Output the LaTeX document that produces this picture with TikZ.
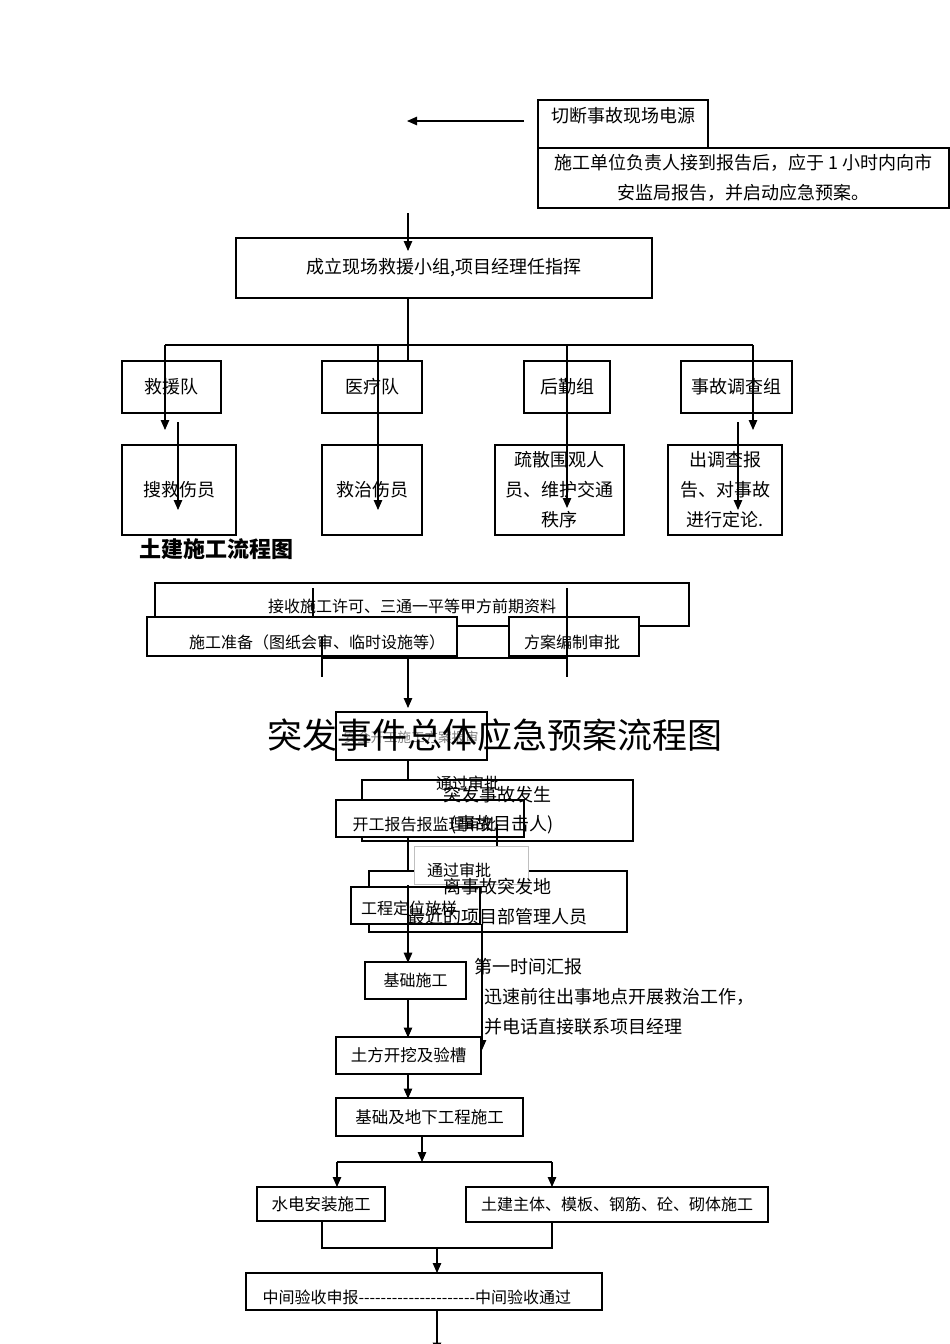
\documentclass[tikz,border=0pt]{standalone}
\usepackage{fontspec}
\setmainfont{Noto Sans CJK SC}
\usetikzlibrary{arrows.meta}

\begin{document}
\begin{tikzpicture}[x=1pt, y=-1pt,
  box/.style={draw, fill=white, line width=1.1pt, inner sep=0pt},
  ln/.style={line width=1.1pt},
  arr/.style={line width=1.1pt, -{Triangle[length=10pt, width=8.5pt]}},
  t18/.style={font=\fontsize{18}{30}\selectfont},
  t17/.style={font=\fontsize{16.5}{20}\selectfont},
  t16/.style={font=\fontsize{16}{20}\selectfont}]
\useasboundingbox (0,0) rectangle (950,1344);

% Emergency plan (upper chart)
\node (cut) at (623,124) [box, minimum width=170pt, minimum height=48pt] {};
\node (cuttxt) at (548,116) [t18, anchor=west] {切断事故现场电源};
\node (rep) at (743.5,178) [box, t18, align=center, minimum width=411pt, minimum height=60pt]
  {施工单位负责人接到报告后，应于 1 小时内向市\\安监局报告，并启动应急预案。};
\coordinate (lft1) at (524,121); \coordinate (lft2) at (407,121);
\draw[arr] (lft1) -- (lft2);

\node (team) at (444,268) [box, t18, minimum width=416pt, minimum height=60pt] {成立现场救援小组,项目经理任指挥};
\coordinate (top) at (408,213);
\draw[arr] (top) -- ++(0,38);
\draw[arr] (team.south -| top) -- ++(0,93);

% Groups
\node (rescue) at (171.5,387) [box, t18, minimum width=99pt, minimum height=52pt] {救援队};
\node (medic) at (372,387) [box, t18, minimum width=100pt, minimum height=52pt] {医疗队};
\node (logis) at (567,387) [box, t18, minimum width=86pt, minimum height=52pt] {后勤组};
\node (probe) at (736.5,387) [box, t18, minimum width=111pt, minimum height=52pt] {事故调查组};

\node (search) at (179,490) [box, t18, minimum width=114pt, minimum height=90pt] {搜救伤员};
\node (treat) at (372,490) [box, t18, minimum width=100pt, minimum height=90pt] {救治伤员};
\node (crowd) at (559.5,490) [box, t18, align=center, minimum width=129pt, minimum height=90pt] {疏散围观人\\员、维护交通\\秩序};
\node (verdict) at (725,490) [box, t18, align=center, minimum width=114pt, minimum height=90pt] {出调查报\\告、对事故\\进行定论.};

% Branch lines (drawn over the boxes)
\coordinate (hb1) at (165,345); \coordinate (hb2) at (753,345);
\draw[ln] (hb1) -- (hb2);
\foreach \x/\len in {165/85, 378/165, 567/163, 753/85} {
  \coordinate (br\x) at (\x,345);
  \draw[arr] (br\x) -- ++(0,\len);
}
\coordinate (sr1) at (178,422); \coordinate (sr2) at (738,422);
\draw[arr] (sr1) -- ++(0,88);
\draw[arr] (sr2) -- ++(0,88);

% Civil works flow chart
\node (civttl) at (136,549) [anchor=west, font=\fontsize{22}{22}\selectfont\bfseries] {土建施工流程图};

\node (recv) at (422,604.5) [box, minimum width=534pt, minimum height=43pt] {};
\draw[line width=1.8pt] (recv.north east) -- (recv.south east) -- (recv.south west);
\node (recvtxt) at (412,606) [t16] {接收施工许可、三通一平等甲方前期资料};
\coordinate (v1) at (313,588);
\draw[ln] (v1) -- ++(0,29);

\node (prep) at (302,636.5) [box, t16, minimum width=310pt, minimum height=39pt] {};
\draw[line width=1.6pt] (prep.north east) -- (prep.south east);
\node (preptxt) at (317,642) [t16] {施工准备（图纸会审、临时设施等）};
\node (plan) at (574,636.5) [box, minimum width=130pt, minimum height=39pt] {};
\node (plantxt) at (572,642) [t16] {方案编制审批};

\coordinate (j1) at (322,637); \coordinate (j2) at (567,588);
\coordinate (jm) at (408,658);
\draw[ln] (j1) -- ++(0,40);
\draw[ln] (j2) -- ++(0,89);
\draw[ln] (j1 |- jm) -- (j2 |- jm);
\draw[arr] (jm) -- ++(0,50);

\node (safe) at (411.5,736) [box, minimum width=151pt, minimum height=48pt] {};
\node (safetxt) at (411,737) [font=\fontsize{13.5}{14}\selectfont, text=gray] {安全开工施工方案报审};
\node (title) at (495,735) [font=\fontsize{35}{35}\selectfont] {突发事件总体应急预案流程图};

\draw[arr] (safe.south -| jm) -- ++(0,39);

% Accident (drawn under the start report box)
\node (sudden) at (497.5,810.5) [box, minimum width=271pt, minimum height=61pt] {};
\node (start) at (430,818.5) [box, minimum width=188pt, minimum height=37pt] {};
\node (starttxt) at (349,824) [t16, anchor=west] {开工报告报监理审批};
\node (sudtxt1) at (497,795) [t18] {突发事故发生};
\node (sudtxt2) at (502,825) [t18] {(事故目击人)};
\node (pass1) at (468,783) [t16] {通过审批};

\draw[arr] (start.south -| jm) -- ++(0,48);
\coordinate (w1) at (497,824);
\draw[arr] (w1) -- ++(0,108);

\node (near) at (498,901.5) [box, minimum width=258pt, minimum height=61pt] {};
\node (pass2box) at (471,865) [draw=gray!50, fill=white, line width=0.6pt, minimum width=114pt, minimum height=38pt] {};
\node (pass2) at (459,870) [t16] {通过审批};
\node (stake) at (415.5,905.5) [box, line width=1.4pt, minimum width=129pt, minimum height=37pt] {};
\node (staketxt) at (409,908) [t16] {工程定位放样};
\node (neartxt1) at (497,887) [t18] {离事故突发地};
\node (neartxt2) at (497,917) [t18] {最近的项目部管理人员};
\draw[ln] (stake.south -| jm) -- ++(0,-40);

\coordinate (w2) at (482,924);
\draw[arr] (w2) -- ++(0,126);
\node (first) at (471,967) [t18, anchor=west] {第一时间汇报};
\node (go1) at (481,997) [t18, anchor=west] {迅速前往出事地点开展救治工作，};
\node (go2) at (481,1027) [t18, anchor=west] {并电话直接联系项目经理};

% Foundation and main works
\draw[arr] (stake.south -| jm) -- ++(0,38);
\node (base) at (415.5,980.5) [box, t16, minimum width=101pt, minimum height=37pt] {基础施工};
\draw[arr] (base.south -| jm) -- ++(0,38);
\node (dig) at (408.5,1055.5) [box, t17, minimum width=145pt, minimum height=37pt] {土方开挖及验槽};
\draw[arr] (dig.south -| jm) -- ++(0,24);
\node (under) at (429.5,1117) [box, t17, minimum width=187pt, minimum height=38pt] {基础及地下工程施工};

\coordinate (s0) at (422,1136);
\coordinate (sl) at (337,1162); \coordinate (sr) at (552,1162);
\draw[arr] (s0) -- (s0 |- sl);
\draw[ln] (sl) -- (sr);
\draw[arr] (sl) -- ++(0,25);
\draw[arr] (sr) -- ++(0,25);

\node (hydro) at (321,1204) [box, t17, minimum width=128pt, minimum height=34pt] {水电安装施工};
\node (civil) at (617,1204.5) [box, t16, minimum width=302pt, minimum height=35pt] {土建主体、模板、钢筋、砼、砌体施工};

\coordinate (m0) at (437,1248);
\draw[ln] (hydro.south -| j1) -- (j1 |- m0) -- (sr |- m0) -- (civil.south -| sr);
\draw[arr] (m0) -- ++(0,25);

\node (mid) at (424,1291.5) [box, minimum width=356pt, minimum height=37pt] {};
\node (midtxt) at (259,1297) [t16, anchor=west]
  {中间验收申报-{}-{}-{}-{}-{}-{}-{}-{}-{}-{}-{}-{}-{}-{}-{}-{}-{}-{}-{}-{}-{}中间验收通过};
\draw[arr] (mid.south -| m0) -- ++(0,42);
\end{tikzpicture}
\end{document}
